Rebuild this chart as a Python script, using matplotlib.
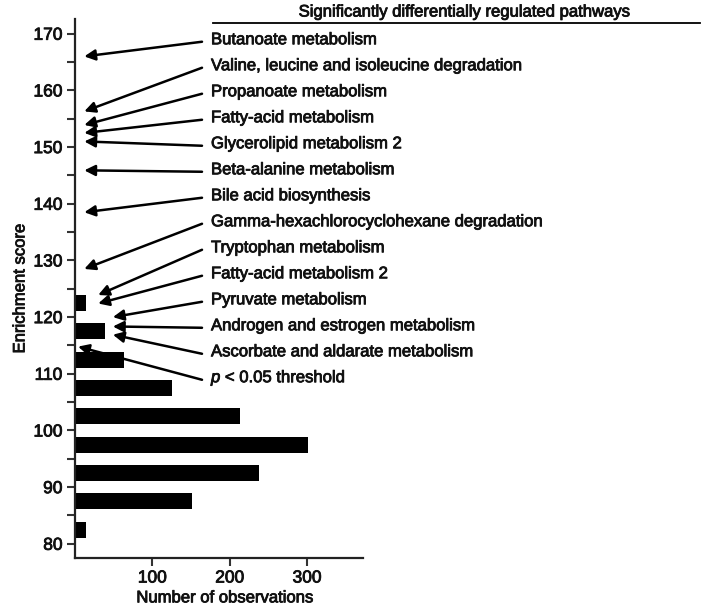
import matplotlib
matplotlib.use('Agg')
import matplotlib.pyplot as plt
from matplotlib.lines import Line2D
import matplotlib.patheffects as pe

plt.rcParams['font.family'] = ['Liberation Sans', 'DejaVu Sans']
plt.rcParams['mathtext.fontset'] = 'custom'
plt.rcParams['mathtext.it'] = 'Liberation Sans:italic'
plt.rcParams['mathtext.rm'] = 'Liberation Sans'

# ---- data ----
bin_centers = [82.5, 87.5, 92.5, 97.5, 102.5, 107.5, 112.5, 117.5, 122.5]
observations = [14, 151, 238, 301, 213, 126, 64, 39, 14]

pathways = [
    "Butanoate metabolism",
    "Valine, leucine and isoleucine degradation",
    "Propanoate metabolism",
    "Fatty-acid metabolism",
    "Glycerolipid metabolism 2",
    "Beta-alanine metabolism",
    "Bile acid biosynthesis",
    "Gamma-hexachlorocyclohexane degradation",
    "Tryptophan metabolism",
    "Fatty-acid metabolism 2",
    "Pyruvate metabolism",
    "Androgen and estrogen metabolism",
    "Ascorbate and aldarate metabolism",
    r"$p$ < 0.05 threshold",
]
pathway_scores = [166.0, 156.3, 153.9, 152.5, 151.0, 145.9, 138.5, 128.5,
                  123.9, 122.4, 120.0, 118.35, 116.9, 114.8]
arrow_tip_obs = [12, 12, 12, 12, 12, 12, 12, 12, 30, 30, 49, 49, 49, 4]

y_major = [80, 90, 100, 110, 120, 130, 140, 150, 160, 170]
x_major = [100, 200, 300]

# ---- figure ----
W, H = 721, 611
fig = plt.figure(figsize=(W / 100, H / 100), dpi=100)
ax = fig.add_axes([75 / W, 1 - 558 / H, (363 - 75) / W, (558 - 19) / H])

ax.barh(bin_centers, observations, height=2.8, color='black', align='center')

ax.set_xlim(0, 372.4)
ax.set_ylim(77.5, 172.6)

for s in ['top', 'right']:
    ax.spines[s].set_visible(False)
for s in ['left', 'bottom']:
    ax.spines[s].set_linewidth(1.6)
    ax.spines[s].set_color('#222222')

ax.set_yticks(y_major)
ax.set_yticks([v + 5 for v in y_major[:-1]], minor=True)
ax.set_xticks(x_major)
ax.tick_params(axis='both', which='both', direction='out', length=6,
               width=1.5, color='#333333', labelsize=12.5, pad=3)

heavy = [pe.withStroke(linewidth=0.6, foreground='#111111')]
for lab in ax.get_xticklabels() + ax.get_yticklabels():
    lab.set_path_effects(heavy)
    lab.set_color('#111111')

ax.set_ylabel("Enrichment score", fontsize=12, color='#111111', path_effects=heavy)
ax.yaxis.set_label_coords(-0.165, 0.5)
ax.set_xlabel("Number of observations", fontsize=12, color='#111111', path_effects=heavy)
ax.xaxis.set_label_coords(0.521, -0.06)

# pathway labels and arrows
px_x = lambda px: (px - 75) / 0.7733
px_y = lambda py: 170 - (py - 34) / 5.667
row0, step = 40.0, 26.0
for i, (name, sc, tx) in enumerate(zip(pathways, pathway_scores, arrow_tip_obs)):
    ry = row0 + i * step
    ax.text(px_x(211), px_y(ry), name, fontsize=12, va='center', ha='left',
            color='#111111', clip_on=False, path_effects=heavy)
    ax.annotate('', xy=(tx, sc), xytext=(px_x(202), px_y(ry + 2)),
                arrowprops=dict(arrowstyle='-|>', lw=1.8, color='black',
                                mutation_scale=16, shrinkA=0, shrinkB=0),
                annotation_clip=False)

fig.text(465 / W, 1 - 12 / H, "Significantly differentially regulated pathways",
         fontsize=12, ha='center', va='center', color='#111111', path_effects=heavy)
fig.add_artist(Line2D([213 / W, 700 / W], [1 - 23 / H, 1 - 23 / H],
                      color='black', lw=1.3, transform=fig.transFigure))

fig.savefig('out.png', dpi=100)
